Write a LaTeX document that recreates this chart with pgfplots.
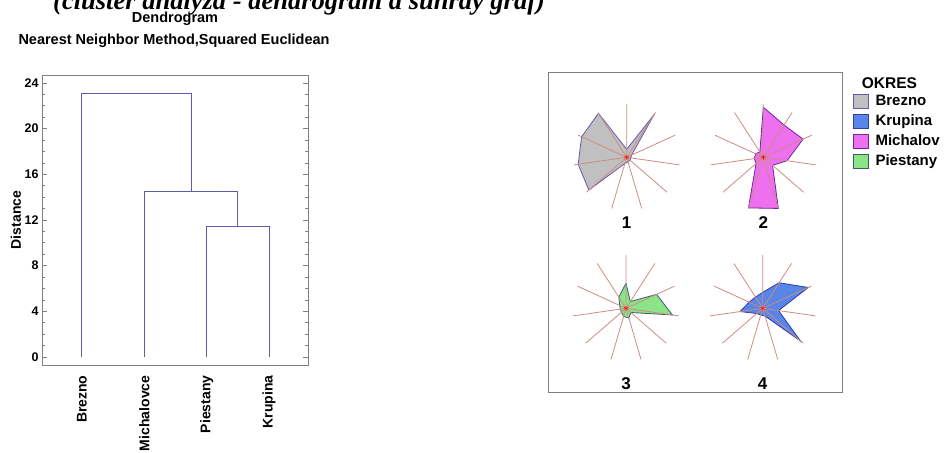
\documentclass[border=0pt]{standalone}
\usepackage{pgfplots}
\pgfplotsset{compat=1.18}
\usepgfplotslibrary{polar}
\usepackage{fontspec}
\setmainfont{Liberation Sans}
\newfontfamily\titlefont{Liberation Serif}
\definecolor{dendro}{RGB}{92,92,170}
\definecolor{framegray}{RGB}{128,128,128}
\definecolor{raycol}{RGB}{205,140,130}
\definecolor{brezfill}{RGB}{192,192,192}
\definecolor{brezedge}{RGB}{100,90,175}
\definecolor{krupfill}{RGB}{88,134,232}
\definecolor{krupedge}{RGB}{50,60,170}
\definecolor{michfill}{RGB}{238,112,238}
\definecolor{michedge}{RGB}{110,40,165}
\definecolor{piesfill}{RGB}{140,228,135}
\definecolor{piesedge}{RGB}{60,90,120}
\pgfplotsset{
  sqleg/.style={legend image code/.code={\draw[##1] (0pt,-7pt) rectangle (14.5pt,7pt);}},
  star/.style={
    scale only axis, width=106.6pt, height=106.6pt,
    ymin=0, ymax=1, hide axis, anchor=center,
    xtick=\empty, ytick=\empty, clip=false,
  },
}
\newcommand{\rays}{%
  \addplot[raycol, line width=0.8pt, mark=none] coordinates {
    (90,0) (90,1) (57.27,0) (57.27,1) (24.55,0) (24.55,1) (351.82,0) (351.82,1)
    (319.09,0) (319.09,1) (286.36,0) (286.36,1) (253.64,0) (253.64,1)
    (220.91,0) (220.91,1) (188.18,0) (188.18,1) (155.45,0) (155.45,1)
    (122.73,0) (122.73,1)};
  \addplot[only marks, mark=asterisk, mark size=2.5pt, red] coordinates {(0,0)};
}
\begin{document}
\begin{tikzpicture}[x=1pt,y=1pt]
\path[use as bounding box] (0,0) rectangle (944,452);
\node[anchor=base west, font=\titlefont\bfseries\itshape\fontsize{26.5}{26.5}\selectfont, inner sep=0pt] at (53,442) {(cluster analýza - dendrogram a sunray graf)};
\node[anchor=base, font=\bfseries\fontsize{14.5}{14.5}\selectfont, inner sep=0pt] at (175,429) {Dendrogram};
\node[anchor=base, font=\bfseries\fontsize{14.5}{14.5}\selectfont, inner sep=0pt] at (174,407) {Nearest Neighbor Method,Squared Euclidean};

\begin{axis}[
  at={(42pt,87pt)}, anchor=south west,
  scale only axis, width=266.3pt, height=290pt,
  xmin=0.36, xmax=4.63, ymin=-0.7, ymax=24.7,
  axis line style={framegray, line width=0.8pt},
  xtick={1,2,3,4}, xticklabels={Brezno,Michalovce,Piestany,Krupina},
  x tick label style={rotate=90, anchor=east, font=\bfseries\fontsize{14}{14}\selectfont},
  xticklabel shift=7pt,
  xtick style={draw=none},
  ytick={0,4,...,24}, minor y tick num=3,
  ytick pos=both, tick align=inside,
  yticklabel pos=left,
  y tick label style={font=\bfseries\fontsize{12.5}{12.5}\selectfont},
  /pgf/number format/assume math mode=true,
  ylabel={Distance},
  ylabel style={at={(axis description cs:-0.098,0.5)}, anchor=center, font=\bfseries\fontsize{14}{14}\selectfont},
  major tick length=5pt, minor tick length=3pt,
  y tick style={framegray, line width=0.7pt},
]
\addplot[dendro, line width=0.9pt] coordinates {(3,0) (3,11.44) (4,11.44) (4,0)};
\addplot[dendro, line width=0.9pt] coordinates {(2,0) (2,14.5) (3.5,14.5) (3.5,11.44)};
\addplot[dendro, line width=0.9pt] coordinates {(1,0) (1,23.06) (2.75,23.06) (2.75,14.5)};
\end{axis}

\begin{axis}[
  at={(548pt,60pt)}, anchor=south west,
  scale only axis, width=294pt, height=320pt,
  xmin=548, xmax=842, ymin=60, ymax=380,
  xtick=\empty, ytick=\empty,
  axis line style={framegray, line width=0.8pt},
  clip=false,
  legend cell align=left,
  legend style={at={(axis cs:850,362)}, anchor=north west, draw=none, fill=none,
    font=\bfseries\fontsize{15}{15}\selectfont, row sep=2pt,
    /tikz/every odd column/.append style={column sep=5pt},
    nodes={inner sep=2pt, text height=11pt, text depth=3pt}},
]
\addlegendimage{sqleg, fill=brezfill, draw=brezedge, line width=0.8pt}
\addlegendentry{Brezno}
\addlegendimage{sqleg, fill=krupfill, draw=krupedge, line width=0.8pt}
\addlegendentry{Krupina}
\addlegendimage{sqleg, fill=michfill, draw=michedge, line width=0.8pt}
\addlegendentry{Michalov}
\addlegendimage{sqleg, fill=piesfill, draw=piesedge, line width=0.8pt}
\addlegendentry{Piestany}
\node[anchor=base west, font=\bfseries\fontsize{15.5}{15.5}\selectfont, inner sep=0pt] at (axis cs:861.7,363.7) {OKRES};
\node[font=\bfseries\fontsize{17}{17}\selectfont] at (axis cs:626.7,229) {1};
\node[font=\bfseries\fontsize{17}{17}\selectfont] at (axis cs:763.3,229) {2};
\node[font=\bfseries\fontsize{17}{17}\selectfont] at (axis cs:626,68) {3};
\node[font=\bfseries\fontsize{17}{17}\selectfont] at (axis cs:762.7,68) {4};
\end{axis}

\begin{polaraxis}[star, at={(626.7pt,294.7pt)}]
\addplot[fill=brezfill, draw=brezedge, line width=0.8pt, mark=none] coordinates {
  (90,0.15) (57.27,0.96) (24.55,0.10) (351.82,0.08) (319.09,0.08) (286.36,0.09)
  (253.64,0.12) (220.91,0.94) (188.18,0.92) (155.45,0.93) (122.73,0.98) (90,0.15)};
\rays
\end{polaraxis}

\begin{polaraxis}[star, at={(763.3pt,294.7pt)}]
\addplot[fill=michfill, draw=michedge, line width=0.8pt, mark=none] coordinates {
  (90,0.94) (57.27,0.72) (24.55,0.82) (351.82,0.45) (319.09,0.23) (286.36,1.0)
  (253.64,0.99) (220.91,0.18) (188.18,0.17) (155.45,0.16) (122.73,0.12) (90,0.94)};
\rays
\end{polaraxis}

\begin{polaraxis}[star, at={(626pt,143.7pt)}]
\addplot[fill=piesfill, draw=piesedge, line width=0.8pt, mark=none] coordinates {
  (90,0.47) (57.27,0.15) (24.55,0.63) (351.82,0.88) (319.09,0.12) (286.36,0.19)
  (253.64,0.16) (220.91,0.11) (188.18,0.11) (155.45,0.13) (122.73,0.25) (90,0.47)};
\rays
\end{polaraxis}

\begin{polaraxis}[star, at={(762.7pt,143.7pt)}]
\addplot[fill=krupfill, draw=krupedge, line width=0.8pt, mark=none] coordinates {
  (90,0.30) (57.27,0.57) (24.55,0.94) (351.82,0.30) (319.09,0.94) (286.36,0.15)
  (253.64,0.13) (220.91,0.15) (188.18,0.43) (155.45,0.28) (122.73,0.25) (90,0.30)};
\rays
\end{polaraxis}
\end{tikzpicture}
\end{document}
